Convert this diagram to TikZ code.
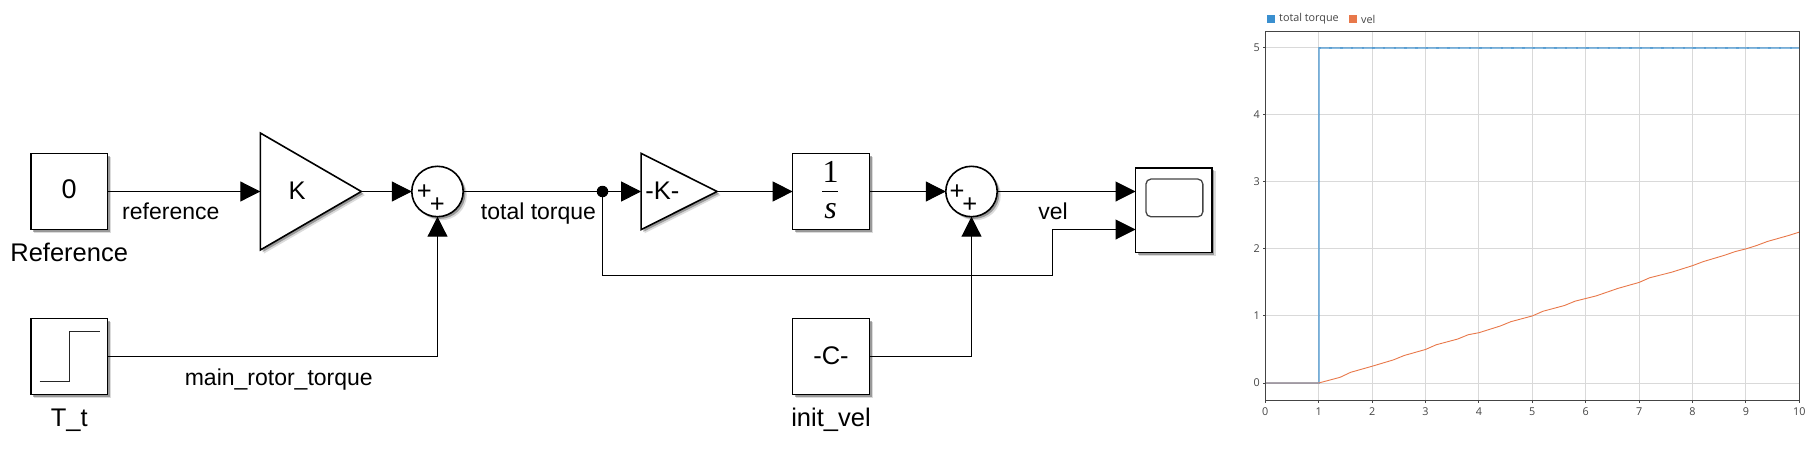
\documentclass[tikz,border=0pt]{standalone}
\usepackage{fontspec}
\setmainfont{Liberation Sans}
\newfontfamily\serifnum{Liberation Serif}
\newfontfamily\chartfont{Open Sans}
\usetikzlibrary{shapes.geometric,arrows.meta,shadows}
\definecolor{axiscol}{HTML}{444444}
\definecolor{gridcol}{HTML}{D9D9D9}
\definecolor{seriesblue}{HTML}{3A8FCF}
\definecolor{seriesorange}{HTML}{E8784A}
\tikzset{
  softshadow/.style={drop shadow={shadow xshift=3.6pt,shadow yshift=-3.6pt,fill=black,opacity=.14},
                     drop shadow={shadow xshift=2.2pt,shadow yshift=-2.2pt,fill=black,opacity=.3}},
  blockbox/.style={rectangle,draw=black,fill=white,line width=1.6pt,inner sep=0pt,outer sep=0pt,
                   minimum width=76.7pt,minimum height=76.3pt,softshadow},
  gaintri/.style={isosceles triangle,isosceles triangle stretches,shape border rotate=0,draw=black,fill=white,
                   line width=1.6pt,inner sep=0pt,outer sep=0pt,anchor=apex,softshadow},
  sumcircle/.style={ellipse,draw=black,fill=white,line width=1.6pt,inner sep=0pt,outer sep=0pt,
                   minimum width=51.4pt,minimum height=50.4pt,softshadow},
  wire/.style={line width=1pt,draw=black},
  wirearrow/.style={wire,-{Triangle[length=20pt,width=20pt]}},
  bigtext/.style={font=\fontsize{25.5}{30}\selectfont,inner sep=0pt,anchor=base},
  sigtext/.style={font=\fontsize{23}{27}\selectfont,inner sep=0pt,anchor=base},
  frac/.style={font=\serifnum\fontsize{32}{36}\selectfont,inner sep=0pt,anchor=base},
  ticktext/.style={font=\chartfont\fontsize{10.8}{13}\selectfont,text=axiscol,inner sep=0pt},
  legendtext/.style={font=\chartfont\fontsize{10.8}{13}\selectfont,text=axiscol,inner sep=0pt,anchor=west},
}
\begin{document}
\begin{tikzpicture}[x=1pt,y=-1pt]
\useasboundingbox (0,0) rectangle (1817,450);
% blocks
\node[blockbox] (ref) at (69.2,191.5) {};
\node[blockbox] (step) at (69.2,356.5) {};
\node[gaintri,minimum width=117pt,minimum height=101pt] (gk) at (361.3,191.5) {};
\node[sumcircle] (suma) at (437.5,191.5) {};
\node[circle,fill=black,inner sep=0pt,minimum size=11.5pt] (dot) at (602.5,191.5) {};
\node[gaintri,minimum width=76.3pt,minimum height=76pt] (gc) at (717.1,191.5) {};
\node[blockbox] (integ) at (831,191.5) {};
\node[blockbox] (const) at (831,356.5) {};
\node[sumcircle] (sumb) at (971.5,191.5) {};
\node[blockbox,minimum height=84.6pt] (scope) at (1173.8,210) {};
\node[rectangle,rounded corners=5pt,draw=axiscol,line width=1.3pt,inner sep=0pt,minimum width=56.9pt,minimum height=37.7pt] (screen) at (1174.4,197.9) {};
\coordinate (scopeina) at (1135.5,191.5);
\coordinate (scopeinb) at (1135.5,229.5);
\coordinate (bend) at (1052.5,275.5);
% step icon
\draw[line width=1pt,draw=black!85] (39.5,381.5) -- (69.5,381.5) -- (69.5,331.5) -- (100,331.5);
% connectors
\draw[wirearrow] (ref.east) -- (gk.lower side);
\draw[wirearrow] (gk.apex) -- (suma.west);
\draw[wirearrow] (step.east) -| (suma.south);
\draw[wire] (suma.east) -- (dot);
\draw[wirearrow] (dot) -- (gc.lower side);
\draw[wirearrow] (gc.apex) -- (integ.west);
\draw[wirearrow] (integ.east) -- (sumb.west);
\draw[wirearrow] (const.east) -| (sumb.south);
\draw[wirearrow] (sumb.east) -- (scopeina);
\draw[wire] (dot) |- (bend);
\draw[wirearrow] (bend) |- (scopeinb);
% block text
\node[bigtext,font=\fontsize{27}{30}\selectfont] (t0) at (69.2,198.5) {0};
\node[bigtext] (tk) at (297,199.3) {K};
\node[bigtext] (tkc) at (662.4,199.3) {-K-};
\node[bigtext] (tc) at (831,364.3) {-C-};
\node[frac] (tone) at (830.5,182.3) {1};
\draw[line width=1.6pt] (822.4,191.5) -- (838,191.5);
\node[frac,font=\serifnum\itshape\fontsize{32}{36}\selectfont] (ts) at (830.5,218.3) {s};
\node[bigtext] (pa1) at (424.3,199.3) {+};
\node[bigtext] (pa2) at (437.3,212.5) {+};
\node[bigtext] (pb1) at (957.1,199.3) {+};
\node[bigtext] (pb2) at (969.8,212.5) {+};
% labels
\node[bigtext] (lref) at (69.2,261.7) {Reference};
\node[bigtext] (lt) at (69.2,426.7) {T\_t};
\node[bigtext] (linit) at (831,426.7) {init\_vel};
\node[sigtext] (sref) at (170.8,219.3) {reference};
\node[sigtext] (stot) at (538.5,219.3) {total torque};
\node[sigtext] (smain) at (278.8,385) {main\_rotor\_torque};
\node[sigtext] (svel) at (1053,219.3) {vel};
% chart
\begin{scope}[xshift=1265.3pt,yshift=-383pt,x=53.4pt,y=67.06pt]
  \foreach \k in {1,...,9} \draw[gridcol,line width=1pt] (\k,-.258) -- (\k,5.244);
  \foreach \k in {0,...,5} \draw[gridcol,line width=1pt] (0,\k) -- (10,\k);
  \foreach \k in {0,...,10} {
    \draw[axiscol,line width=1pt] (\k,-.258) -- ++(0,-3pt);
    \node[ticktext] (xl\k) at (\k,-.43) {\k};
  }
  \foreach \k in {0,...,5} {
    \draw[axiscol,line width=1pt] (0,\k) -- ++(-2.5pt,0);
    \node[ticktext,anchor=east] (yl\k) at (-.1,\k) {\k};
  }
  \draw[seriesblue,opacity=.6,line width=2pt,line join=miter] (0,0) -- (1,0) -- (1,5) -- (10,5);
  \draw[seriesblue,opacity=.5,line width=2pt,dash pattern=on 2.5pt off 8.2pt] (1,5) -- (10,5);
  \draw[seriesorange,line width=.9pt,line join=round] (0,0) -- (1,0) -- (1.4,.085) -- (1.6,.16) -- (2,.25) -- (2.4,.345)
    -- (2.6,.41) -- (3,.5) -- (3.2,.57) -- (3.6,.655) -- (3.8,.72) -- (4,.75) -- (4.4,.85) -- (4.6,.915) -- (5,1)
    -- (5.2,1.07) -- (5.6,1.155) -- (5.8,1.22) -- (6.2,1.30) -- (6.6,1.41) -- (7,1.5) -- (7.2,1.57) -- (7.6,1.65)
    -- (8,1.75) -- (8.2,1.81) -- (8.6,1.905) -- (8.8,1.96) -- (9,2) -- (9.2,2.05) -- (9.4,2.11) -- (9.8,2.2) -- (10,2.25);
  \draw[axiscol,line width=1.1pt] (0,-.258) rectangle (10,5.244);
\end{scope}
% legend
\node[rectangle,fill=seriesblue,inner sep=0pt,minimum size=8pt] (lga) at (1271,19.3) {};
\node[legendtext] (lgat) at (1279,19) {total torque};
\node[rectangle,fill=seriesorange,inner sep=0pt,minimum size=8pt] (lgb) at (1353,19.3) {};
\node[legendtext] (lgbt) at (1361,19) {vel};
\end{tikzpicture}
\end{document}
